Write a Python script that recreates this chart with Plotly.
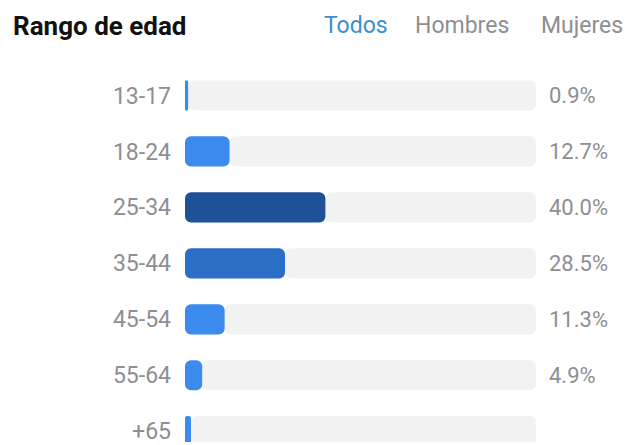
import plotly.graph_objects as go

# Age ranges and share of audience (%)
age_ranges = ["13-17", "18-24", "25-34", "35-44", "45-54", "55-64", "+65"]
shares = [0.9, 12.7, 40.0, 28.5, 11.3, 4.9, 1.7]
share_labels = ["0.9%", "12.7%", "40.0%", "28.5%", "11.3%", "4.9%", "1.7%"]
tabs = ["Todos", "Hombres", "Mujeres"]

TRACK_MAX = 100
FONT = "Roboto, Arial, sans-serif"
LABEL_GREY = "#8e8e93"


def bar_colour(v):
    if v >= 35:
        return "#1f5199"
    if v >= 20:
        return "#2a6ec6"
    return "#3b8bee"


colours = [bar_colour(v) for v in shares]

fig = go.Figure()

# Grey track: runs from the value out to 100 %, rounded at its right end
fig.add_trace(go.Bar(
    y=age_ranges,
    x=[TRACK_MAX - v for v in shares],
    base=shares,
    orientation="h",
    width=0.54,
    marker=dict(color="#f2f2f2", cornerradius=6, line=dict(width=0)),
    hoverinfo="skip",
    showlegend=False,
))

# Coloured value bar: drawn from the value back to 0 so the left end is rounded
fig.add_trace(go.Bar(
    y=age_ranges,
    x=[-v for v in shares],
    base=shares,
    orientation="h",
    width=0.54,
    marker=dict(color=colours, cornerradius=6, line=dict(width=0)),
    customdata=shares,
    hovertemplate="%{y}: %{customdata}%<extra></extra>",
    showlegend=False,
))

# Percentage labels to the right of each track
for cat, lab in zip(age_ranges, share_labels):
    fig.add_annotation(
        x=TRACK_MAX, y=cat, xref="x", yref="y",
        text=lab, showarrow=False, xanchor="left", xshift=11,
        font=dict(family=FONT, size=22, color=LABEL_GREY),
    )

# Header: title and gender tabs
fig.add_annotation(
    x=11 / 627, y=1 - 26 / 445, xref="paper", yref="paper",
    text="<b>Rango de edad</b>", showarrow=False,
    xanchor="left", yanchor="middle",
    font=dict(family=FONT, size=26, color="#111111"),
)
tab_x = [322, 413, 539]
tab_colours = ["#3b8fd0", "#8e8e93", "#8e8e93"]
for name, px, col in zip(tabs, tab_x, tab_colours):
    fig.add_annotation(
        x=px / 627, y=1 - 26 / 445, xref="paper", yref="paper",
        text=name, showarrow=False, xanchor="left", yanchor="middle",
        font=dict(family=FONT, size=23, color=col),
    )

fig.update_layout(
    width=627, height=445,
    margin=dict(l=0, r=0, t=0, b=0),
    paper_bgcolor="white", plot_bgcolor="white",
    barmode="overlay",
    xaxis=dict(range=[0, TRACK_MAX], domain=[185 / 627, 536 / 627],
               visible=False, fixedrange=True),
    yaxis=dict(range=[6.193, -0.5], domain=[0, 1 - 68 / 445],
               showgrid=False, zeroline=False, showline=False, ticks="",
               ticklabelstandoff=13,
               tickfont=dict(family=FONT, size=23, color=LABEL_GREY),
               fixedrange=True),
    font=dict(family=FONT),
)

fig.write_html("out.html")
